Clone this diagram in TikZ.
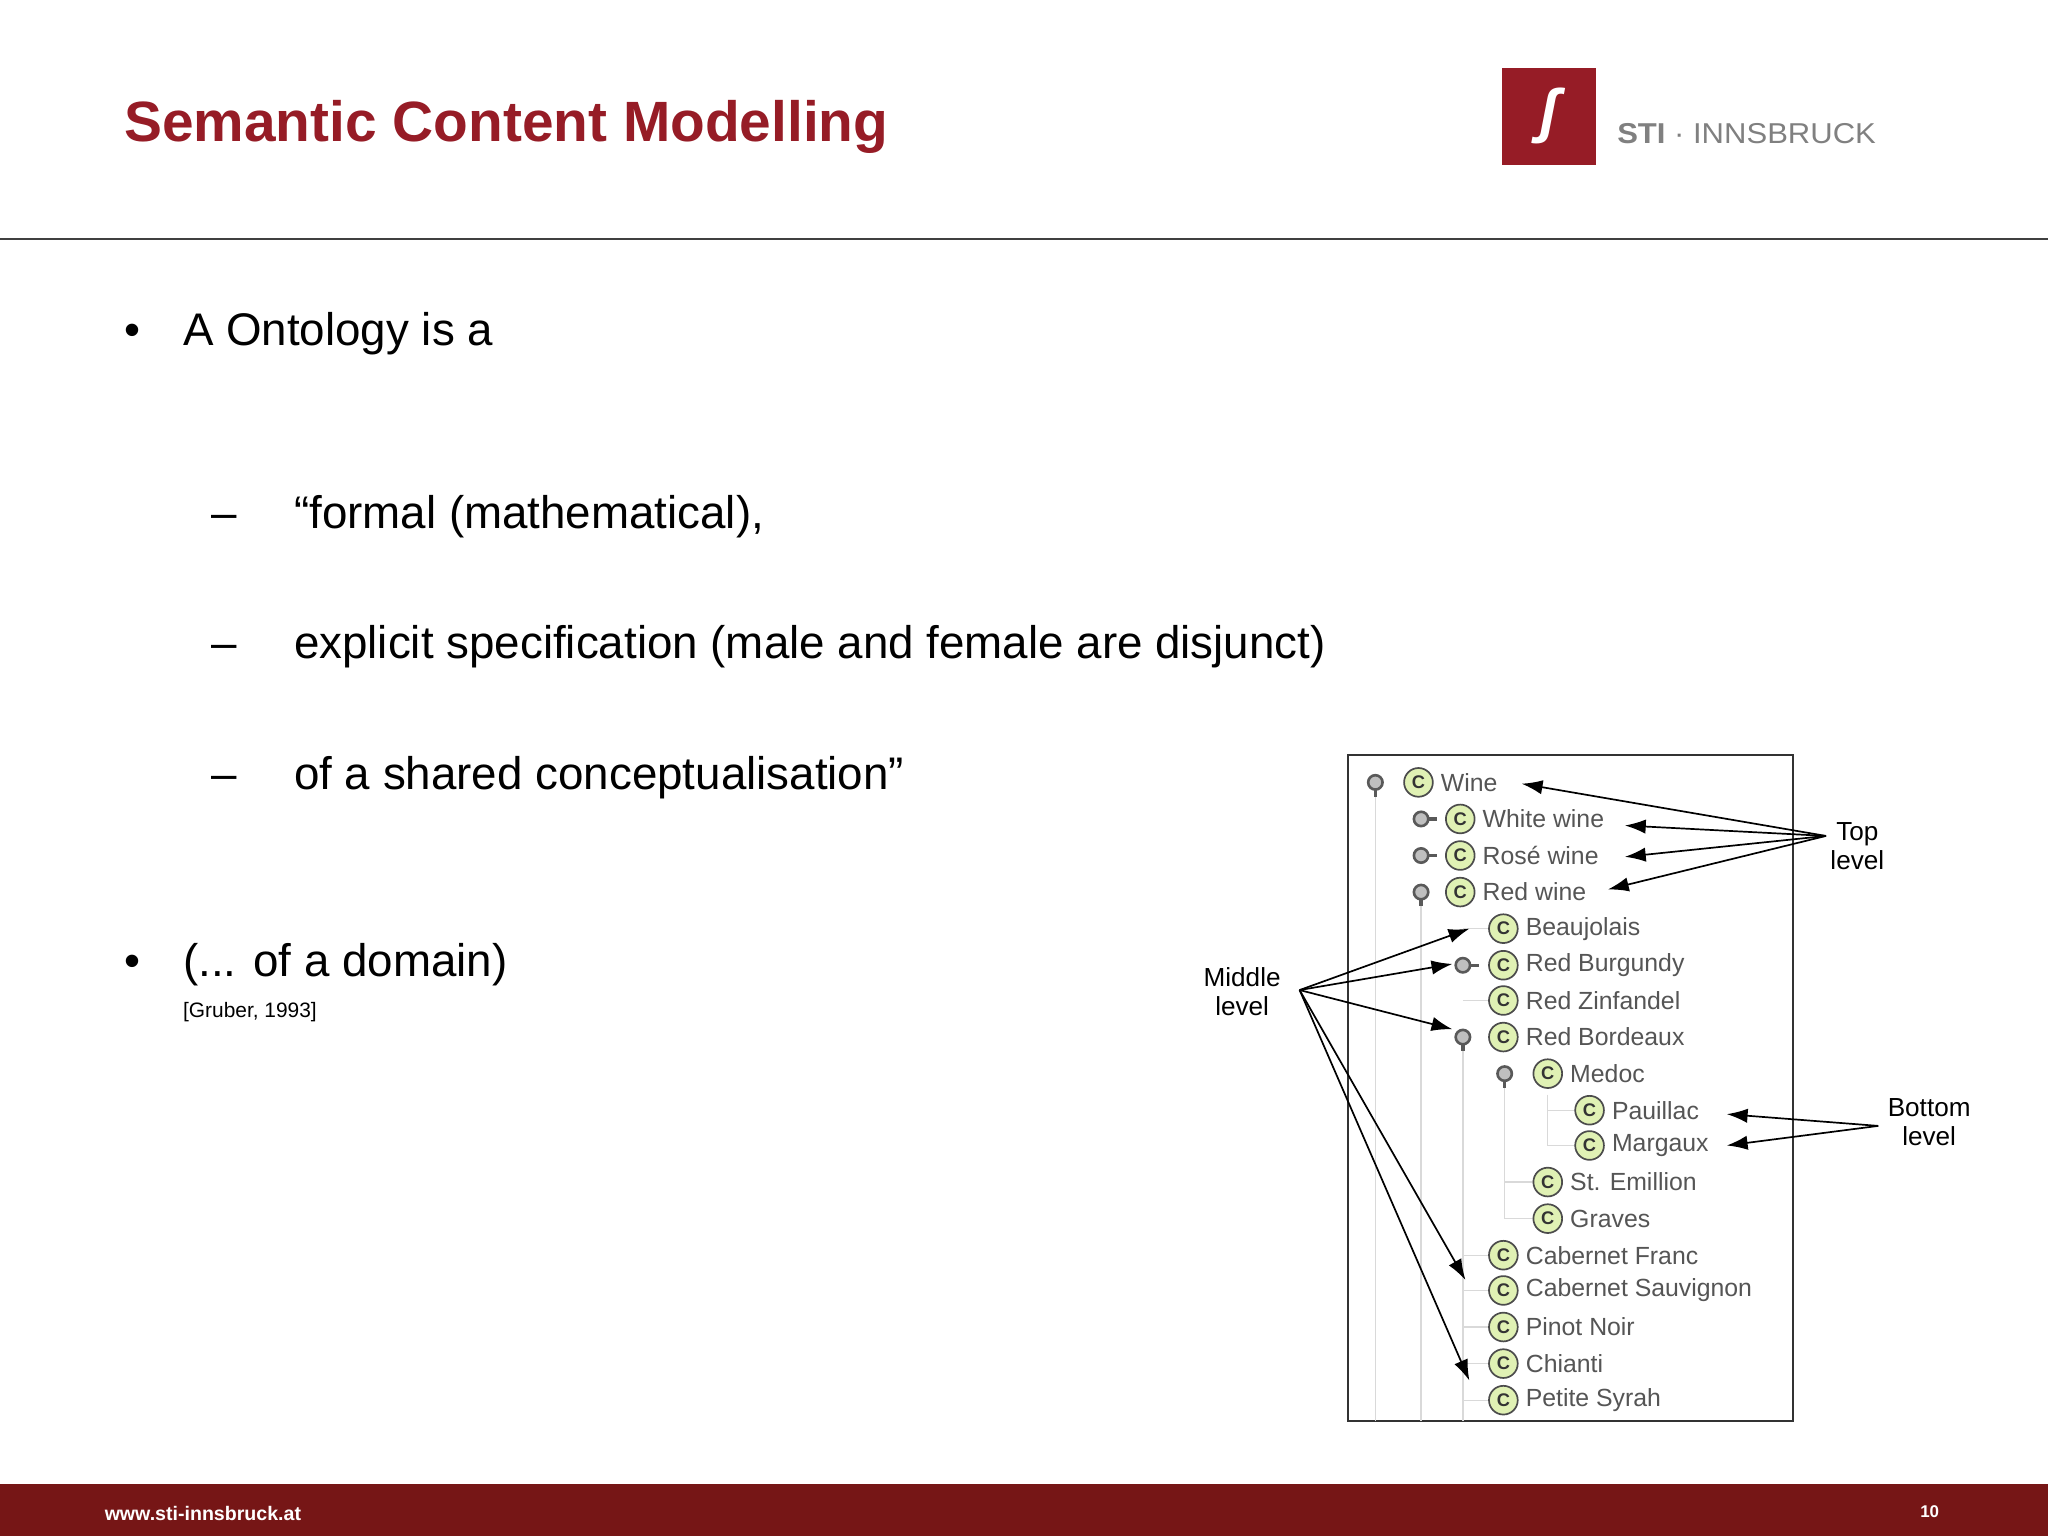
\documentclass[tikz,border=0pt]{standalone}
\usepackage{fontspec}
\setmainfont{Liberation Sans}
\usetikzlibrary{arrows.meta}
\definecolor{stired}{RGB}{150,28,38}
\definecolor{footred}{RGB}{118,22,22}
\definecolor{treegray}{RGB}{85,85,85}
\tikzset{
 lbl/.style={anchor=west,font=\fontsize{35}{40}\selectfont,inner sep=0,text height=26pt,text depth=7pt},
 cic/.style={circle,draw=black!70,fill=yellow!60!green!30,line width=1.3pt,minimum size=22pt,inner sep=0,font=\fontsize{14}{14}\selectfont\bfseries,text=black!80},
 item/.style={anchor=west,font=\fontsize{19}{20}\selectfont,text=treegray,inner sep=0},
 arr/.style={-{Latex[length=16pt,width=11pt]},line width=1.3pt},
 side/.style={font=\fontsize{20}{22}\selectfont,align=center,inner sep=1pt},
 tline/.style={draw=black!15,line width=1pt}
}
\begin{document}
\begin{tikzpicture}[x=1pt,y=-1pt]
\useasboundingbox (0,0) rectangle (1568,1176);
\fill[white] (0,0) rectangle (1568,1176);
% title
\node[anchor=base west,inner sep=0,text=stired,font=\fontsize{43.5}{46}\selectfont\bfseries] (title) at (95,108) {Semantic Content Modelling};
\fill[stired] (1150,52) rectangle (1222,126);
\node[text=white,font=\fontsize{46}{46}\selectfont\bfseries\itshape] (logo) at (1186,89) {\char"0283};
\node[anchor=west,inner sep=0,text=black!50,font=\fontsize{22}{22}\selectfont,xscale=1.08] (sti) at (1238,102) {\textbf{STI} · INNSBRUCK};
\draw[black!75,line width=1.3pt] (0,183) -- (1568,183);
% bullets
\node[lbl] (b1) at (95,255) {•};
\node[lbl] (t1) at (140,255) {A Ontology is a};
\node[lbl] (d1) at (162,395) {–};
\node[lbl] (s1) at (225,395) {“formal (mathematical),};
\node[lbl] (d2) at (162,495) {–};
\node[lbl] (s2) at (225,495) {explicit specification (male and female are disjunct)};
\node[lbl] (d3) at (162,595) {–};
\node[lbl] (s3) at (225,595) {of a shared conceptualisation”};
\node[lbl] (b2) at (95,738) {•};
\node[lbl] (t2) at (140,738) {(... of a domain)};
\node[anchor=west,inner sep=0,font=\fontsize{16}{18}\selectfont] (gr) at (140,775) {[Gruber, 1993]};
% footer
\fill[footred] (0,1136) rectangle (1568,1176);
\node[anchor=west,inner sep=0,text=white,font=\fontsize{15}{16}\selectfont\bfseries] (url) at (80,1159) {www.sti-innsbruck.at};
\node[anchor=west,inner sep=0,text=white,font=\fontsize{13}{14}\selectfont\bfseries] (pg) at (1470,1157) {10};
% tree box
\draw[black!80,line width=1.5pt] (1032,578) rectangle (1373,1088);
% tree lines
\draw[tline] (1053,605) -- (1053,1088);
\draw[tline] (1088,690) -- (1088,1088);
\draw[tline] (1120,800) -- (1120,1088);
\draw[tline] (1152,828) -- (1152,933) -- (1175,933);
\draw[tline] (1152,905) -- (1175,905);
\draw[tline] (1185,838) -- (1185,877) -- (1207,877);
\draw[tline] (1185,850) -- (1207,850);
\foreach \y in {711,766,961,988,1016,1044,1072} \draw[tline] (1120,\y) -- (1140,\y);
% handles
\foreach \x/\y in {1053/599,1088/683,1120/794,1152/822}{
 \draw[black!65,line width=2.5pt] (\x,\y) -- (\x,\y+11);
 \draw[black!65,fill=black!25,line width=2pt] (\x,\y) circle (5.5pt);}
\foreach \x/\y in {1088/627,1088/655,1120/739}{
 \draw[black!65,line width=2.5pt] (\x,\y) -- (\x+12,\y);
 \draw[black!65,fill=black!25,line width=2pt] (\x,\y) circle (5.5pt);}
% items
\foreach \n/\x/\y/\t in {
 wine/1086/599/Wine, white/1118/627/White wine, rose/1118/655/Rosé wine, red/1118/683/Red wine,
 beau/1151/711/Beaujolais, burg/1151/739/Red Burgundy, zin/1151/766/Red Zinfandel, bord/1151/794/Red Bordeaux,
 medoc/1185/822/Medoc, paui/1217/850/Pauillac, marg/1217/877/Margaux, emil/1185/905/St. Emillion,
 grav/1185/933/Graves, cabf/1151/961/Cabernet Franc, cabs/1151/988/Cabernet Sauvignon,
 pinot/1151/1016/Pinot Noir, chian/1151/1044/Chianti, syrah/1151/1072/Petite Syrah}{
 \node[cic] (c\n) at (\x,\y) {C};
 \node[item] (\n) at (\x+17,\y) {\t};}
% side labels
\node[side] (top) at (1422,648) {Top\\level};
\node[side] (mid) at (951,759) {Middle\\level};
\node[side] (bot) at (1477,859) {Bottom\\level};
\coordinate (tp) at (1398,640);
\coordinate (mp) at (995,758);
\coordinate (bp) at (1438,862);
\draw[arr] (tp) -- (1165,600);
\draw[arr] (tp) -- (1244,632);
\draw[arr] (tp) -- (1244,656);
\draw[arr] (tp) -- (1231,681);
\draw[arr] (mp) -- (1125,711);
\draw[arr] (mp) -- (1112,738);
\draw[arr] (mp) -- (1112,788);
\draw[arr] (mp) -- (1122,980);
\draw[arr] (mp) -- (1125,1057);
\draw[arr] (bp) -- (1322,853);
\draw[arr] (bp) -- (1322,877);
\end{tikzpicture}
\end{document}
